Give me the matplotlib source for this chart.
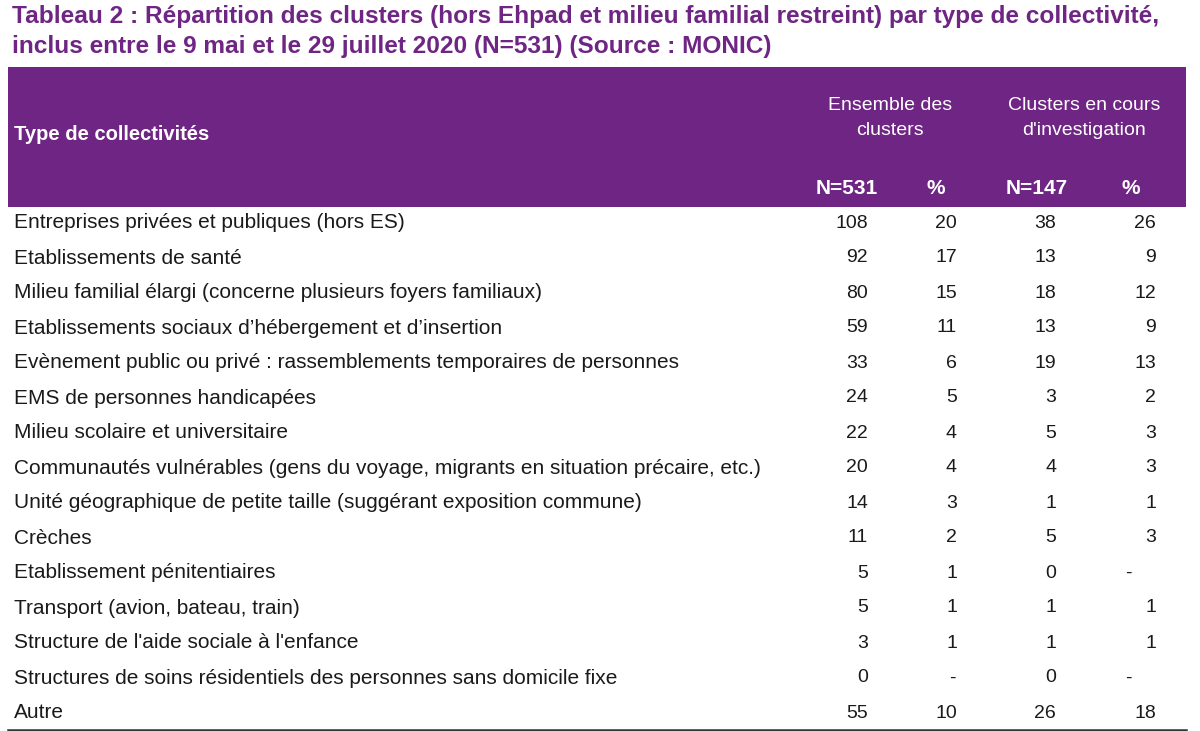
import matplotlib
matplotlib.use("Agg")
from matplotlib import pyplot as plt
from matplotlib.patches import Rectangle

plt.rcParams['font.family'] = ['Liberation Sans', 'DejaVu Sans']

TITLE = ["Tableau 2 : Répartition des clusters (hors Ehpad et milieu familial restreint) par type de collectivité,",
         "inclus entre le 9 mai et le 29 juillet 2020 (N=531) (Source : MONIC)"]

categories = [
    "Entreprises privées et publiques (hors ES)",
    "Etablissements de santé",
    "Milieu familial élargi (concerne plusieurs foyers familiaux)",
    "Etablissements sociaux d’hébergement et d’insertion",
    "Evènement public ou privé : rassemblements temporaires de personnes",
    "EMS de personnes handicapées",
    "Milieu scolaire et universitaire",
    "Communautés vulnérables (gens du voyage, migrants en situation précaire, etc.)",
    "Unité géographique de petite taille (suggérant exposition commune)",
    "Crèches",
    "Etablissement pénitentiaires",
    "Transport (avion, bateau, train)",
    "Structure de l'aide sociale à l'enfance",
    "Structures de soins résidentiels des personnes sans domicile fixe",
    "Autre",
]
n_all = [108, 92, 80, 59, 33, 24, 22, 20, 14, 11, 5, 5, 3, 0, 55]
pct_all = [20, 17, 15, 11, 6, 5, 4, 4, 3, 2, 1, 1, 1, None, 10]
n_inv = [38, 13, 18, 13, 19, 3, 5, 4, 1, 5, 0, 1, 1, 0, 26]
pct_inv = [26, 9, 12, 9, 13, 2, 3, 3, 1, 3, None, 1, 1, None, 18]

group_headers = ["Ensemble des\nclusters", "Clusters en cours\nd'investigation"]
sub_headers = ["N=531", "%", "N=147", "%"]

PURPLE = "#6f2583"
INK = "#1a1a1a"
W, H = 1200, 731

fig = plt.figure(figsize=(W / 100, H / 100), dpi=100)
ax = fig.add_axes([0, 0, 1, 1])
ax.set_xlim(0, W)
ax.set_ylim(H, 0)
ax.axis("off")

# title
for i, line in enumerate(TITLE):
    ax.text(12, 17 + i * 29, line, color=PURPLE, fontsize=17.6, fontweight="bold",
            va="center", ha="left")

# header box
ax.add_patch(Rectangle((8, 67), 1178, 140, color=PURPLE, lw=0))
ax.text(14, 135, "Type de collectivités", color="white", fontsize=14.5,
        fontweight="bold", va="center")
for x, t in zip([890, 1084], group_headers):
    ax.text(x, 118, t, color="white", fontsize=14, ha="center", va="center",
            linespacing=1.6)
for x, t in zip([847, 936, 1037, 1131], sub_headers):
    ax.text(x, 188, t, color="white", fontsize=15, fontweight="bold",
            ha="center", va="center")

# rows
right_edges = [868, 957, 1056, 1156]
dash_x = [None, 952, None, 1128]
for i, cat in enumerate(categories):
    y = 223 + i * 35
    ax.text(14, y, cat, color=INK, fontsize=15, va="center", ha="left")
    for j, col in enumerate([n_all, pct_all, n_inv, pct_inv]):
        v = col[i]
        if v is None:
            ax.text(dash_x[j], y, "-", color=INK, fontsize=14,
                    va="center", ha="center")
        else:
            ax.text(right_edges[j], y, str(v), color=INK, fontsize=14,
                    va="center", ha="right")

ax.plot([8, 1186], [729.5, 729.5], color="#333333", lw=1.8)

fig.savefig("out.png", dpi=100)
